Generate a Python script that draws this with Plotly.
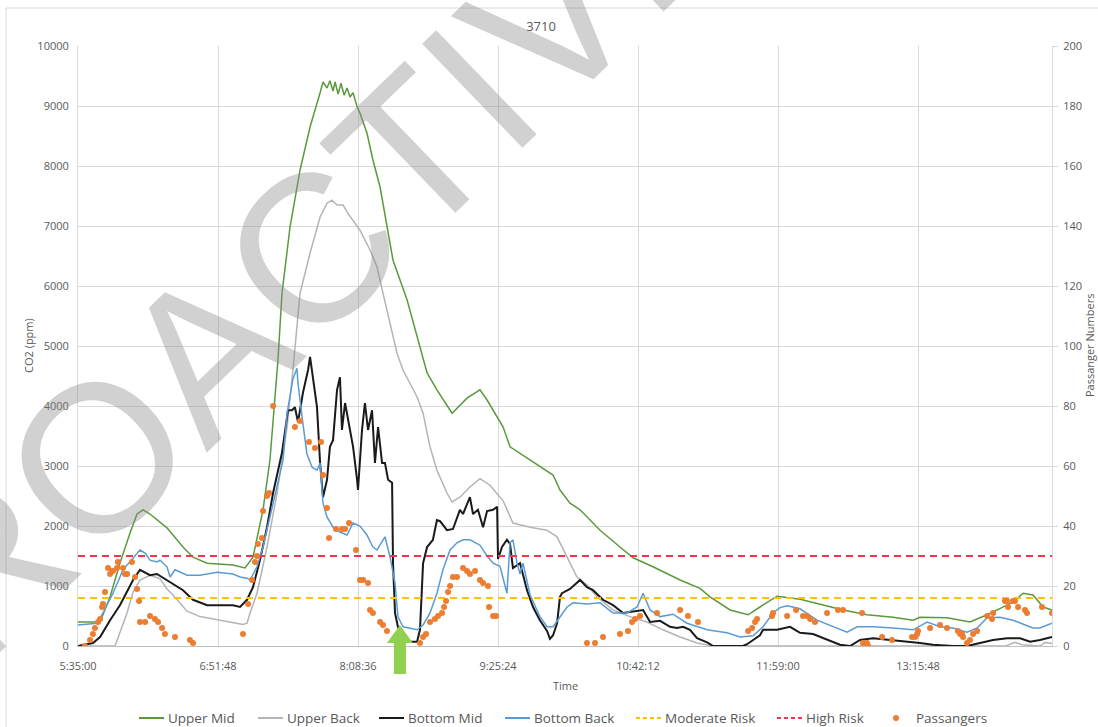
import plotly.graph_objects as go

# time axis: minutes after 5:35:00
tick_vals = [0, 76.8, 153.6, 230.4, 307.2, 384, 460.8]
tick_text = ["5:35:00", "6:51:48", "8:08:36", "9:25:24", "10:42:12", "11:59:00", "13:15:48"]
x_end = 534.3

MODERATE = 800
HIGH = 1500

um_t = [0, 12.1, 17.6, 23, 28.5, 32.4, 35.7, 39.5, 48.8, 57.6, 63.1, 70.8, 85, 91.6, 96, 101.5, 105.3, 108.1, 109.7, 111.9,
        116.3, 121.8, 127.3, 132.8, 134.4, 136.6, 138.2, 139.9, 141, 142.7, 144.3, 146, 147.6, 149.2, 150.9, 153.1, 154.7, 158.5, 161.8, 165.7,
        169.5, 172.8, 180.5, 187.6, 191.5, 196.9, 205.2, 213.4, 220.5, 224.4, 233.2, 237, 248, 260.6, 264.4, 269.9, 275.4, 286.4, 297.3, 304.5,
        315.4, 330.3, 341.2, 346.7, 357.7, 367.6, 374.1, 383.5, 396.1, 408.7, 419.7, 432.8, 447.1, 458.1, 461.9, 476.7, 489.3, 498.7, 505.8, 512.9,
        518.4, 523.9, 529.4, 534.3]
um_ppm = [400, 400, 820, 1380, 1880, 2200, 2270, 2200, 1970, 1650, 1480, 1380, 1350, 1300, 1480, 2270, 3100, 4220, 4770, 5880,
          6980, 7930, 8650, 9220, 9400, 9300, 9420, 9250, 9400, 9200, 9380, 9180, 9300, 9150, 9220, 8990, 8880, 8550, 8100, 7650,
          6980, 6430, 5770, 4980, 4550, 4270, 3880, 4130, 4270, 4100, 3650, 3320, 3100, 2850, 2600, 2380, 2270, 1930, 1650, 1470,
          1320, 1100, 960, 820, 600, 520, 650, 830, 780, 680, 600, 520, 480, 430, 480, 470, 400, 520, 630, 730,
          880, 850, 650, 600]

ub_t = [0, 20.3, 26.9, 30.2, 34, 39.5, 45, 48.8, 52.1, 59.8, 66.9, 77.9, 85, 90.5, 92.7, 94.4, 98.2, 103.7, 109.2, 114.7,
        117.9, 121.8, 127.3, 132.8, 136.6, 139.3, 142.1, 145.4, 147.6, 150.9, 154.7, 160.2, 164, 167.3, 171.2, 175, 178.3, 186, 189.3, 193.1,
        196.9, 202.4, 205.2, 209.5, 215, 220.5, 226, 233.2, 238.6, 248, 257.3, 262.8, 268.3, 273.7, 279.2, 284.7, 293.5, 302.8, 312.1, 320.9,
        330.3, 339.6, 348.4, 509, 514, 518, 527.7, 530.5, 534.3]
ub_ppm = [0, 0, 550, 900, 1100, 1180, 1120, 950, 850, 580, 490, 430, 400, 360, 380, 550, 880, 1650, 2550, 3650,
          4600, 5880, 6550, 7150, 7380, 7430, 7350, 7350, 7230, 7100, 6930, 6600, 6320, 5880, 5380, 4880, 4600, 4150, 3880, 3320,
          2930, 2550, 2400, 2480, 2650, 2790, 2680, 2420, 2050, 1980, 1930, 1820, 1480, 1150, 1020, 820, 600, 490, 400, 270,
          150, 50, 0, 0, 60, 20, 0, 60, 40]

bm_t = [0, 8.2, 12.1, 17.6, 23, 26.9, 30.2, 34, 39.5, 43.3, 48.8, 57.6, 63.1, 70.8, 85, 88.9, 92.7, 96, 99.8, 103.7,
        107, 111.9, 115.2, 117.4, 119, 120.7, 123.4, 126.2, 127.3, 128.9, 131.1, 132.8, 134.4, 136.6, 138.2, 139.9, 142.1, 143.7, 144.8, 146.5,
        149.2, 150.9, 153.1, 153.6, 155.8, 157.4, 159.1, 161.3, 162.9, 164.6, 166.8, 168.4, 170.1, 172.3, 172.8, 173.9, 175.5, 178.3, 182.1, 186,
        187.6, 189.3, 191.5, 194.7, 196.9, 198.6, 202.4, 205.7, 209.5, 211.2, 215, 216.7, 219.4, 222.2, 224.4, 227.7, 229.9, 230.4, 232.6, 235.3,
        237, 238.6, 242.5, 246.3, 249.6, 253.4, 257.3, 258.9, 260.6, 262.8, 264.4, 265.5, 269.9, 275.4, 279.2, 282.5, 288, 293.5, 299, 304.5,
        310, 313.8, 319.3, 324.8, 328.6, 331.9, 335.7, 339.6, 345.1, 348.4, 364.8, 367, 370.3, 374.1, 375.8, 383.5, 390.6, 396.1, 403.2, 410.9,
        418, 423.5, 429, 436.1, 447.1, 454.8, 461.9, 469, 480, 487.7, 494.8, 502, 509.6, 516.8, 522.3, 527.7, 534.3]
bm_ppm = [0, 50, 150, 430, 680, 900, 1100, 1270, 1180, 1200, 1100, 930, 770, 680, 680, 650, 770, 980, 1430, 1980,
          2550, 3220, 3930, 3930, 3980, 3730, 4220, 4600, 4820, 4500, 3980, 3050, 2480, 2770, 3320, 3430, 4270, 4480, 3600, 4050,
          3600, 3320, 2770, 2600, 3600, 4050, 3600, 3930, 3050, 3650, 3050, 3050, 2770, 2720, 1380, 550, 320, 150, 70, 70,
          270, 1380, 1650, 1770, 2100, 2080, 1930, 1950, 2270, 2200, 2480, 2200, 2270, 1980, 2250, 2270, 2320, 1450, 1650, 1770,
          1700, 1300, 1380, 930, 650, 430, 250, 120, 180, 380, 820, 880, 950, 1100, 980, 930, 770, 680, 550, 570,
          600, 400, 420, 320, 300, 320, 270, 130, 60, 0, 0, 30, 100, 180, 270, 270, 320, 220, 200, 100,
          20, 0, 100, 130, 100, 70, 50, 20, 0, 0, 50, 100, 130, 130, 70, 100, 150]

bb_t = [0, 10.4, 13.7, 19.2, 24.7, 30.2, 34, 36.8, 39.5, 43.3, 45, 48.8, 50.5, 53.2, 59.8, 66.9, 76.3, 85, 88.9, 92.7,
        94.4, 98.2, 101.5, 105.3, 109.2, 112.5, 114.7, 117.9, 120.1, 120.7, 122.9, 125.6, 128.4, 131.1, 132.8, 134.4, 136.6, 139.9, 143.7, 147.6,
        150.9, 154.7, 158.5, 161.8, 164, 168.4, 171.2, 173.9, 175.5, 178.3, 186, 189.3, 193.1, 196.9, 200.2, 204.1, 207.9, 211.2, 215, 220.5,
        224.4, 227.7, 231.5, 235.3, 237, 238.6, 240.8, 242.5, 244.1, 248, 253.4, 257.3, 260.6, 264.4, 268.3, 271.6, 279.2, 286.4, 293.5, 301.2,
        306.7, 310, 313.8, 319.3, 326.4, 334.1, 345.1, 356, 363.2, 370.3, 375.8, 381.3, 385.1, 389, 396.1, 405.4, 414.2, 421.9, 427.4, 436.1,
        447.1, 458.1, 465.8, 472.9, 480, 487.7, 493.2, 498.7, 505.8, 512.9, 523.9, 527.7, 534.3]
bb_ppm = [350, 380, 550, 880, 1270, 1470, 1600, 1550, 1430, 1400, 1430, 1320, 1150, 1270, 1180, 1180, 1230, 1200, 1150, 1130,
          1100, 1320, 1650, 2150, 2650, 3100, 3880, 4450, 4630, 4370, 3820, 3200, 2980, 2930, 3050, 2380, 2150, 1980, 1900, 1850,
          2050, 2000, 1850, 1650, 1600, 1820, 1480, 1050, 490, 320, 270, 350, 550, 880, 1270, 1600, 1720, 1770, 1770, 1680,
          1500, 1380, 1330, 880, 1720, 1770, 1380, 1200, 1380, 850, 490, 320, 320, 490, 650, 720, 700, 720, 550, 550,
          650, 880, 600, 490, 530, 380, 270, 220, 150, 170, 320, 550, 640, 670, 620, 430, 320, 230, 320, 320,
          300, 270, 400, 320, 300, 230, 300, 470, 480, 430, 300, 300, 380]

pax_t = [3.8, 6.6, 8.2, 9.3, 11, 12.1, 13.2, 13.7, 14.8, 16.5, 17.6, 18.7, 19.2, 21.4, 21.9, 24.7, 25.8, 26.9, 29.6, 31.3,
         32.4, 33.5, 34, 36.8, 39.5, 42.2, 43.9, 46.1, 47.7, 53.2, 61.4, 63.1, 90.5, 93.3, 95.5, 97.1, 98.2, 98.7, 100.9, 101.5,
         103.7, 104.8, 107, 119, 121.8, 126.7, 130, 133.3, 134.4, 136.6, 137.7, 141.5, 144.8, 146.5, 148.7, 152.5, 154.7, 156.4, 159.1, 160.2,
         161.8, 165.7, 167.3, 169.5, 187.6, 189.3, 190.9, 193.1, 195.8, 197.5, 199.7, 200.8, 201.9, 203, 204.1, 205.7, 207.9, 211.2, 213.4, 215,
         217.8, 220.5, 222.2, 224.9, 225.5, 227.7, 229.3, 279.2, 283.6, 288, 297.3, 301.7, 303.9, 305.6, 308.3, 317.6, 330.3, 334.6, 340.1, 367.6,
         369.8, 371.4, 372.5, 380.7, 381.3, 389, 393.9, 397.7, 399.9, 401.6, 404.3, 410.9, 416.9, 419.7, 430.1, 430.6, 432.8, 433.4, 441.1, 446.5,
         457.5, 459.2, 460.3, 460.8, 467.4, 472.9, 476.7, 482.7, 483.9, 485, 485.5, 487.7, 489.3, 491, 493.2, 498.7, 501.4, 502, 508.5, 509.6,
         510.2, 512.9, 514, 515.7, 519.5, 520.6, 528.8, 534.3]
pax_n = [0, 2, 4, 6, 8, 9, 13, 14, 18, 26, 24, 25, 25, 26, 28, 26, 24, 24, 28, 23,
         19, 15, 8, 8, 10, 9, 8, 6, 4, 3, 2, 1, 4, 14, 22, 28, 30, 34, 36, 45,
         50, 51, 80, 73, 75, 68, 66, 68, 57, 46, 36, 39, 39, 39, 41, 32, 22, 22, 21, 12,
         11, 8, 7, 5, 1, 3, 4, 8, 9, 10, 11, 13, 15, 18, 20, 23, 23, 26, 25, 24,
         25, 22, 21, 20, 13, 10, 10, 1, 1, 3, 4, 5, 8, 9, 10, 11, 12, 10, 8, 5,
         6, 8, 9, 10, 11, 10, 12, 10, 10, 9, 8, 11, 12, 12, 11, 1, 1, 0, 3, 2,
         3, 3, 4, 5, 6, 7, 6, 5, 4, 4, 3, 1, 2, 4, 5, 10, 9, 11, 15, 15,
         13, 15, 15, 13, 12, 11, 13, 11]

FONT = "Open Sans"
GREY = "#595959"
GRID = "#D9D9D9"

C_UM, C_UB, C_BM, C_BB = "#5B9A3C", "#B4B4B4", "#1A1A1A", "#5B9BD5"
C_MOD, C_HIGH, C_PAX = "#FFC000", "#F4364C", "#ED7D31"
RISK_DASH = "7px,5px"

fig = go.Figure()
fig.add_trace(go.Scatter(x=um_t, y=um_ppm, name="Upper Mid", mode="lines",
                         line=dict(color=C_UM, width=1.5)))
fig.add_trace(go.Scatter(x=ub_t, y=ub_ppm, name="Upper Back", mode="lines",
                         line=dict(color=C_UB, width=1.5)))
fig.add_trace(go.Scatter(x=bm_t, y=bm_ppm, name="Bottom Mid", mode="lines",
                         line=dict(color=C_BM, width=2)))
fig.add_trace(go.Scatter(x=bb_t, y=bb_ppm, name="Bottom Back", mode="lines",
                         line=dict(color=C_BB, width=1.5)))
fig.add_trace(go.Scatter(x=[0, x_end], y=[MODERATE, MODERATE], name="Moderate Risk", mode="lines",
                         line=dict(color=C_MOD, width=2, dash=RISK_DASH)))
fig.add_trace(go.Scatter(x=[0, x_end], y=[HIGH, HIGH], name="High Risk", mode="lines",
                         line=dict(color=C_HIGH, width=2, dash=RISK_DASH)))
fig.add_trace(go.Scatter(x=pax_t, y=pax_n, name="Passangers", mode="markers", yaxis="y2",
                         marker=dict(color=C_PAX, size=6)))
fig.update_traces(showlegend=False)

W, H = 1098, 727
PL, PT, PR, PB = 78, 46, 1052, 646   # plot area in figure pixels


def px(x):
    return (x - PL) / (PR - PL)


def py(y):
    return (PB - y) / (PB - PT)


shapes = []
annotations = []

# legend drawn by hand so it sits where Excel put it
LEG_Y = 718
legend_items = [
    ("Upper Mid", C_UM, "solid", 139),
    ("Upper Back", C_UB, "solid", 258),
    ("Bottom Mid", C_BM, "solid", 379),
    ("Bottom Back", C_BB, "solid", 505),
    ("Moderate Risk", C_MOD, "dash", 636),
    ("High Risk", C_HIGH, "dash", 777),
]
for name, col, dash, x0 in legend_items:
    shapes.append(dict(type="line", xref="paper", yref="paper",
                       x0=px(x0), x1=px(x0 + 25), y0=py(LEG_Y), y1=py(LEG_Y),
                       line=dict(color=col, width=2, dash="4px,3px" if dash == "dash" else "solid")))
    annotations.append(dict(text=name, xref="paper", yref="paper", x=px(x0 + 27), y=py(LEG_Y),
                            xanchor="left", yanchor="middle", showarrow=False,
                            font=dict(size=13.5, color=GREY)))
shapes.append(dict(type="circle", xref="paper", yref="paper", fillcolor=C_PAX, line=dict(width=0),
                   x0=px(893), x1=px(899), y0=py(LEG_Y + 3), y1=py(LEG_Y - 3)))
annotations.append(dict(text="Passangers", xref="paper", yref="paper", x=px(914), y=py(LEG_Y),
                        xanchor="left", yanchor="middle", showarrow=False,
                        font=dict(size=13.5, color=GREY)))

# green arrow marking the event
arrow_t = 176.6
hw, sw = 7.1, 3.3
y_tip, y_base, y_end = py(625), py(643), py(674)
arrow_path = (f"M {arrow_t},{y_tip} L {arrow_t + hw},{y_base} L {arrow_t + sw},{y_base} L {arrow_t + sw},{y_end} "
              f"L {arrow_t - sw},{y_end} L {arrow_t - sw},{y_base} L {arrow_t - hw},{y_base} Z")
shapes.append(dict(type="path", xref="x", yref="paper", path=arrow_path,
                   fillcolor="#92D050", line=dict(width=0)))

# chart area border
shapes.append(dict(type="rect", xref="paper", yref="paper", x0=px(6), y0=py(H + 20), x1=px(W + 20), y1=py(8),
                   line=dict(color=GRID, width=1)))

annotations += [
    dict(text="CO2 (ppm)", xref="paper", yref="paper", x=px(28), y=0.5, textangle=-90,
         xanchor="center", yanchor="middle", showarrow=False, font=dict(size=11, color=GREY)),
    dict(text="Passanger Numbers", xref="paper", yref="paper", x=px(1089), y=0.5, textangle=-90,
         xanchor="center", yanchor="middle", showarrow=False, font=dict(size=11, color=GREY)),
    dict(text="Time", xref="paper", yref="paper", x=0.5, y=py(685),
         xanchor="center", yanchor="middle", showarrow=False, font=dict(size=11, color=GREY)),
    dict(text="PROACTIVE", xref="paper", yref="paper", x=px(265), y=py(295), textangle=-44,
         xanchor="center", yanchor="middle", showarrow=False,
         font=dict(family="Liberation Sans", size=210, color="rgba(140,140,140,0.4)")),
]

fig.update_layout(
    width=W, height=H,
    margin=dict(l=PL, r=W - PR, t=PT, b=H - PB, autoexpand=False),
    paper_bgcolor="white", plot_bgcolor="white",
    font=dict(family=FONT, color=GREY, size=11),
    title=dict(text="3710", x=541 / W, xref="container", y=1 - 26 / H, yanchor="middle",
               font=dict(size=13, color=GREY)),
    xaxis=dict(range=[0, x_end], tickvals=tick_vals, ticktext=tick_text,
               showgrid=True, gridcolor=GRID, gridwidth=1, zeroline=False,
               showline=True, linecolor="#BFBFBF", ticks="", ticklabelstandoff=10,
               tickfont=dict(size=11, color=GREY)),
    yaxis=dict(range=[0, 10000], dtick=1000, tickformat="d", showgrid=True, gridcolor=GRID, zeroline=False,
               showline=True, linecolor=GRID, ticks="", ticklabelstandoff=6,
               tickfont=dict(size=11, color=GREY)),
    yaxis2=dict(range=[0, 200], dtick=20, overlaying="y", side="right", showgrid=False, zeroline=False,
                showline=True, linecolor=GRID, ticks="outside", ticklen=5, tickcolor=GRID, ticklabelstandoff=3,
                tickfont=dict(size=11, color=GREY)),
    showlegend=False,
    shapes=shapes,
    annotations=annotations,
)

# drop the page's default body margin so the figure fills the window exactly
fig.write_html("out.html", config={"displayModeBar": False},
               post_script="document.body.style.margin='0';document.body.style.overflow='hidden';")
